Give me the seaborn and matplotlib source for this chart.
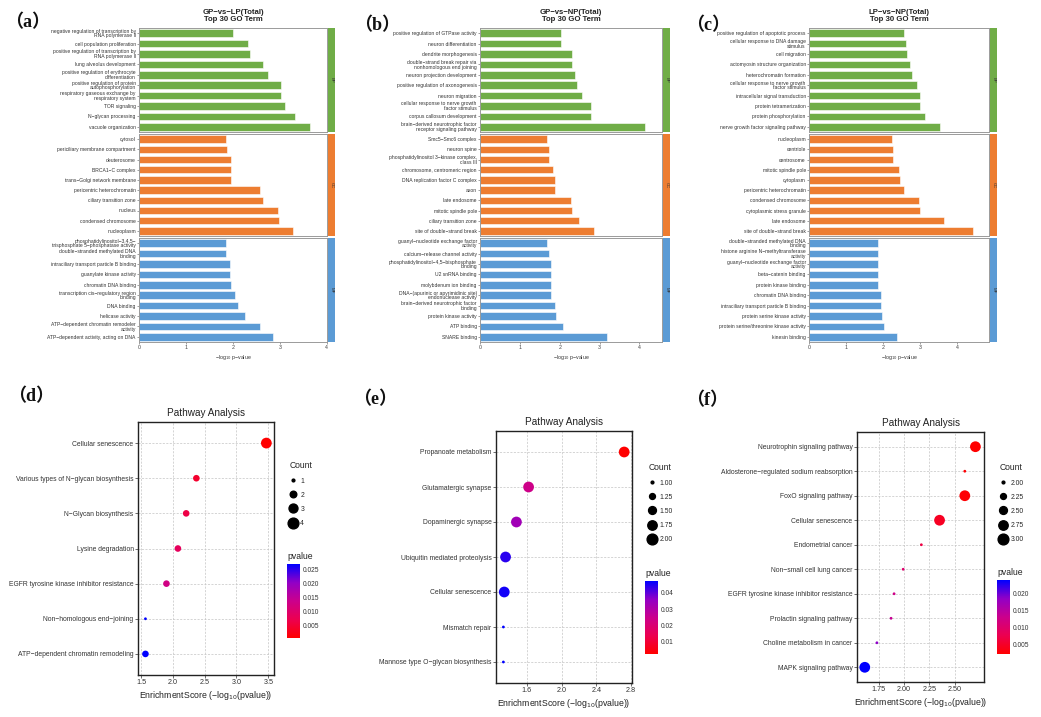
import numpy as np
import pandas as pd
import matplotlib
matplotlib.use('Agg')
import matplotlib.pyplot as plt
import seaborn as sns
from matplotlib.colors import LinearSegmentedColormap, Normalize
from matplotlib.cm import ScalarMappable
from matplotlib.lines import Line2D

# ---------------- datos GO (paneles a, b, c) ----------------
a_bp_terms = ["negative regulation of transcription by\nRNA polymerase II", "cell population proliferation",
              "positive regulation of transcription by\nRNA polymerase II", "lung alveolus development",
              "positive regulation of erythrocyte\ndifferentiation", "positive regulation of protein\nautophosphorylation",
              "respiratory gaseous exchange by\nrespiratory system", "TOR signaling", "N-glycan processing",
              "vacuole organization"]
a_bp_vals = [2.01, 2.33, 2.37, 2.64, 2.75, 3.02, 3.02, 3.11, 3.33, 3.64]
a_cc_terms = ["cytosol", "periciliary membrane compartment", "deuterosome", "BRCA1-C complex",
              "trans-Golgi network membrane", "pericentric heterochromatin", "ciliary transition zone",
              "nucleus", "condensed chromosome", "nucleoplasm"]
a_cc_vals = [1.85, 1.87, 1.95, 1.95, 1.96, 2.58, 2.64, 2.97, 2.98, 3.28]
a_mf_terms = ["phosphatidylinositol-3,4,5-\ntrisphosphate 5-phosphatase activity", "double-stranded methylated DNA\nbinding",
              "intraciliary transport particle B binding", "guanylate kinase activity", "chromatin DNA binding",
              "transcription cis-regulatory region\nbinding", "DNA binding", "helicase activity",
              "ATP-dependent chromatin remodeler\nactivity", "ATP-dependent activity, acting on DNA"]
a_mf_vals = [1.86, 1.86, 1.94, 1.94, 1.95, 2.04, 2.10, 2.26, 2.58, 2.86]

b_bp_terms = ["positive regulation of GTPase activity", "neuron differentiation", "dendrite morphogenesis",
              "double-strand break repair via\nnonhomologous end joining", "neuron projection development",
              "positive regulation of axonogenesis", "neuron migration",
              "cellular response to nerve growth\nfactor stimulus", "corpus callosum development",
              "brain-derived neurotrophic factor\nreceptor signaling pathway"]
b_bp_vals = [2.03, 2.03, 2.32, 2.32, 2.38, 2.44, 2.55, 2.79, 2.79, 4.15]
b_cc_terms = ["Smc5-Smc6 complex", "neuron spine", "phosphatidylinositol 3-kinase complex,\nclass III",
              "chromosome, centromeric region", "DNA replication factor C complex", "axon", "late endosome",
              "mitotic spindle pole", "ciliary transition zone", "site of double-strand break"]
b_cc_vals = [1.67, 1.72, 1.72, 1.82, 1.87, 1.87, 2.29, 2.30, 2.49, 2.85]
b_mf_terms = ["guanyl-nucleotide exchange factor\nactivity", "calcium-release channel activity",
              "phosphatidylinositol-4,5-bisphosphate\nbinding", "U2 snRNA binding", "molybdenum ion binding",
              "DNA-(apurinic or apyrimidinic site)\nendonuclease activity", "brain-derived neurotrophic factor\nbinding",
              "protein kinase activity", "ATP binding", "SNARE binding"]
b_mf_vals = [1.68, 1.72, 1.78, 1.79, 1.79, 1.79, 1.87, 1.91, 2.08, 3.19]

c_bp_terms = ["positive regulation of apoptotic process", "cellular response to DNA damage\nstimulus",
              "cell migration", "actomyosin structure organization", "heterochromatin formation",
              "cellular response to nerve growth\nfactor stimulus", "intracellular signal transduction",
              "protein tetramerization", "protein phosphorylation", "nerve growth factor signaling pathway"]
c_bp_vals = [2.57, 2.61, 2.64, 2.71, 2.77, 2.92, 2.99, 3.00, 3.13, 3.54]
c_cc_terms = ["nucleoplasm", "centriole", "centrosome", "mitotic spindle pole", "cytoplasm",
              "pericentric heterochromatin", "condensed chromosome", "cytoplasmic stress granule",
              "late endosome", "site of double-strand break"]
c_cc_vals = [2.23, 2.26, 2.26, 2.42, 2.46, 2.57, 2.96, 2.98, 3.64, 4.41]
c_mf_terms = ["double-stranded methylated DNA\nbinding", "histone arginine N-methyltransferase\nactivity",
              "guanyl-nucleotide exchange factor\nactivity", "beta-catenin binding", "protein kinase binding",
              "chromatin DNA binding", "intraciliary transport particle B binding", "protein serine kinase activity",
              "protein serine/threonine kinase activity", "kinesin binding"]
c_mf_vals = [1.86, 1.86, 1.87, 1.87, 1.87, 1.93, 1.93, 1.97, 2.02, 2.38]

# ---------------- datos KEGG (paneles d, e, f) ----------------
d_terms = ["Cellular senescence", "Various types of N-glycan biosynthesis", "N-Glycan biosynthesis",
           "Lysine degradation", "EGFR tyrosine kinase inhibitor resistance", "Non-homologous end-joining",
           "ATP-dependent chromatin remodeling"]
d_scores = [3.47, 2.37, 2.21, 2.08, 1.90, 1.57, 1.57]
d_counts = [4, 2, 2, 2, 2, 1, 2]
d_pvals = [0.0004, 0.0043, 0.0062, 0.0083, 0.0126, 0.0268, 0.0268]

e_terms = ["Propanoate metabolism", "Glutamatergic synapse", "Dopaminergic synapse",
           "Ubiquitin mediated proteolysis", "Cellular senescence", "Mismatch repair",
           "Mannose type O-glycan biosynthesis"]
e_scores = [2.72, 1.62, 1.48, 1.355, 1.34, 1.33, 1.33]
e_counts = [2, 2, 2, 2, 2, 1, 1]
e_pvals = [0.0025, 0.024, 0.033, 0.044, 0.0457, 0.0472, 0.0472]

f_terms = ["Neurotrophin signaling pathway", "Aldosterone-regulated sodium reabsorption", "FoxO signaling pathway",
           "Cellular senescence", "Endometrial cancer", "Non-small cell lung cancer",
           "EGFR tyrosine kinase inhibitor resistance", "Prolactin signaling pathway",
           "Choline metabolism in cancer", "MAPK signaling pathway"]
f_scores = [2.705, 2.60, 2.60, 2.35, 2.17, 1.99, 1.90, 1.87, 1.73, 1.61]
f_counts = [3, 2, 3, 3, 2, 2, 2, 2, 2, 3]
f_pvals = [0.0022, 0.0025, 0.0025, 0.0045, 0.0068, 0.0102, 0.0126, 0.0135, 0.0186, 0.0239]

# ---------------- estilo ----------------
sns.set_theme(style='white')
plt.rcParams['font.family'] = ['Liberation Sans', 'DejaVu Sans']

W, H = 1041, 717
fig = plt.figure(figsize=(W / 100, H / 100), dpi=100)


def px_axes(l, t, r, b):
    return fig.add_axes([l / W, 1 - b / H, (r - l) / W, (b - t) / H])


def minus(s):
    return s.replace('-', '\u2212')


verde, naranja, azul = '#70AD47', '#ED7D31', '#5B9BD5'
facetas = [(28, 132), (134, 236), (238, 342)]


def panel_go(left, right, titulo, grupos):
    xmax = 1.1 * max(max(g[2]) for g in grupos)
    for (t, b), (nombre, terms, vals, color) in zip(facetas, grupos):
        ax = px_axes(left, t, right, b)
        df = pd.DataFrame({'term': [minus(s) for s in terms], 'value': vals})
        sns.barplot(data=df, x='value', y='term', color=color, saturation=1, width=0.72,
                    edgecolor='white', linewidth=0.4, ax=ax)
        ax.set_xlim(0, xmax)
        ax.set_ylabel('')
        ax.set_xlabel('')
        for sp in ax.spines.values():
            sp.set_color('#9a9a9a')
            sp.set_linewidth(0.7)
        ax.tick_params(axis='y', left=True, length=1.5, width=0.4, color='#555555',
                       labelsize=3.6, pad=0.8, labelcolor='#333333')
        for lab in ax.get_yticklabels():
            lab.set_linespacing(0.9)
        if nombre == 'MF':
            ax.set_xticks([0, 1, 2, 3, 4])
            ax.tick_params(axis='x', bottom=True, length=1.5, width=0.4, color='#555555',
                           labelsize=3.8, pad=1, labelcolor='#444444')
            ax.set_xlabel('\u2212log$_{10}$ p\u2212value', fontsize=3.8, labelpad=1.5, color='#333333')
        else:
            ax.set_xticks([])
        strip = px_axes(right + 1, t, right + 8, b)
        strip.set_facecolor(color)
        strip.set_xticks([])
        strip.set_yticks([])
        for sp in strip.spines.values():
            sp.set_visible(False)
        strip.text(0.5, 0.5, nombre, rotation=-90, ha='center', va='center',
                   fontsize=3.2, color='#333333', transform=strip.transAxes)
    fig.text((left + right) / 2 / W, 1 - 16 / H, titulo, ha='center', va='center',
             fontsize=5.6, weight='bold', color='#222222', linespacing=1.05)


panel_go(139, 327, 'GP\u2212vs\u2212LP(Total)\nTop 30 GO Term',
         [('BP', a_bp_terms, a_bp_vals, verde), ('CC', a_cc_terms, a_cc_vals, naranja),
          ('MF', a_mf_terms, a_mf_vals, azul)])
panel_go(480, 662, 'GP\u2212vs\u2212NP(Total)\nTop 30 GO Term',
         [('BP', b_bp_terms, b_bp_vals, verde), ('CC', b_cc_terms, b_cc_vals, naranja),
          ('MF', b_mf_terms, b_mf_vals, azul)])
panel_go(809, 989, 'LP\u2212vs\u2212NP(Total)\nTop 30 GO Term',
         [('BP', c_bp_terms, c_bp_vals, verde), ('CC', c_cc_terms, c_cc_vals, naranja),
          ('MF', c_mf_terms, c_mf_vals, azul)])

# ---------------- paneles de burbujas ----------------
cmap = LinearSegmentedColormap.from_list(
    'rojo_azul', [(0.0, '#FF0000'), (0.25, '#EC0050'), (0.5, '#CB008C'), (0.75, '#9200C6'), (1.0, '#0000FF')])
S_MIN, S_MAX = 4, 60


def panel_burbujas(caja, terms, scores, counts, pvals, xlim, xticks, xfmt, cticks, cfmt,
                   pticks, pfmt, prange, pos):
    l, t, r, b = caja
    ax = px_axes(l, t, r, b)
    df = pd.DataFrame({'term': [minus(s) for s in terms], 'score': scores, 'count': counts, 'pvalue': pvals})
    cnorm = (cticks[0], cticks[-1])
    sns.scatterplot(data=df, x='score', y='term', size='count', sizes=(S_MIN, S_MAX), size_norm=cnorm,
                    hue='pvalue', palette=cmap, hue_norm=prange, edgecolor='none', legend=False,
                    ax=ax, zorder=3)
    ax.set_xlim(*xlim)
    ax.set_ylim(len(terms) - 0.4, -0.6)
    ax.set_xticks(xticks)
    ax.set_xticklabels([xfmt.format(v) for v in xticks])
    ax.grid(True, ls=(0, (3, 2)), lw=0.5, color='#c4c4c4')
    ax.set_axisbelow(True)
    for sp in ax.spines.values():
        sp.set_color('#222222')
        sp.set_linewidth(1.0)
    ax.tick_params(axis='y', left=True, length=2, width=0.5, color='#333333',
                   labelsize=4.9, pad=1.2, labelcolor='#333333')
    ax.tick_params(axis='x', bottom=True, length=2, width=0.5, color='#333333',
                   labelsize=5.2, pad=1.2, labelcolor='#333333')
    ax.set_ylabel('')
    ax.set_xlabel('EnrichmentScore (\u2212log$_{10}$(pvalue))', fontsize=6.3,
                  color='#222222', labelpad=1.5)
    ax.set_title('Pathway Analysis', fontsize=7.2, color='#222222', pad=4)

    # leyenda de Count
    handles = []
    for c in cticks:
        s = S_MIN + (c - cnorm[0]) / (cnorm[1] - cnorm[0]) * (S_MAX - S_MIN)
        handles.append(Line2D([], [], marker='o', ls='', color='black', markersize=np.sqrt(s)))
    lx, ly = pos['count']
    ax.legend(handles, [cfmt.format(c) for c in cticks], title='Count', loc='upper left',
              bbox_to_anchor=(lx / W, 1 - ly / H), bbox_transform=fig.transFigure,
              frameon=False, fontsize=4.9, title_fontsize=6.2, labelspacing=1.05,
              handletextpad=0.4, handlelength=1.2, borderpad=0, alignment='left')

    # barra de color de pvalue
    cx0, cy0, cx1, cy1 = pos['cbar']
    fig.text(cx0 / W, 1 - (cy0 - 3) / H, 'pvalue', ha='left', va='bottom', fontsize=6.2,
             color='#222222')
    cax = px_axes(cx0, cy0, cx1, cy1)
    cb = fig.colorbar(ScalarMappable(norm=Normalize(*prange), cmap=cmap), cax=cax, ticks=pticks)
    cb.outline.set_visible(False)
    cax.tick_params(length=0, labelsize=4.8, pad=2, labelcolor='#333333')
    cax.set_yticklabels([pfmt.format(p) for p in pticks])


panel_burbujas((138, 422, 274, 675), d_terms, d_scores, d_counts, d_pvals,
               (1.453, 3.59), [1.5, 2.0, 2.5, 3.0, 3.5], '{:.1f}', [1, 2, 3, 4], '{:d}',
               [0.005, 0.010, 0.015, 0.020, 0.025], '{:.3f}', (0.0004, 0.0268),
               {'count': (286, 458), 'cbar': (287, 564, 300, 638)})
panel_burbujas((496, 431, 632, 683), e_terms, e_scores, e_counts, e_pvals,
               (1.245, 2.81), [1.6, 2.0, 2.4, 2.8], '{:.1f}', [1.0, 1.25, 1.5, 1.75, 2.0], '{:.2f}',
               [0.01, 0.02, 0.03, 0.04], '{:.2f}', (0.0025, 0.0472),
               {'count': (645, 460), 'cbar': (645, 581, 658, 654)})
panel_burbujas((857, 432, 984, 682), f_terms, f_scores, f_counts, f_pvals,
               (1.533, 2.79), [1.75, 2.0, 2.25, 2.5], '{:.2f}', [2.0, 2.25, 2.5, 2.75, 3.0], '{:.2f}',
               [0.005, 0.010, 0.015, 0.020], '{:.3f}', (0.0022, 0.0239),
               {'count': (996, 460), 'cbar': (997, 580, 1010, 654)})

# ---------------- letras de los paneles ----------------
letras = [('a', 5, 23), ('b', 354, 26), ('c', 686, 26), ('d', 8, 397), ('e', 353, 400), ('f', 686, 401)]
for letra, x, y in letras:
    fig.text(x / W, 1 - y / H, '\uff08' + letra + '\uff09', ha='left', va='center', fontsize=13,
             weight='bold', family=['Liberation Serif', 'Noto Sans CJK SC'], color='#111111')

fig.savefig('out.png', dpi=100)
